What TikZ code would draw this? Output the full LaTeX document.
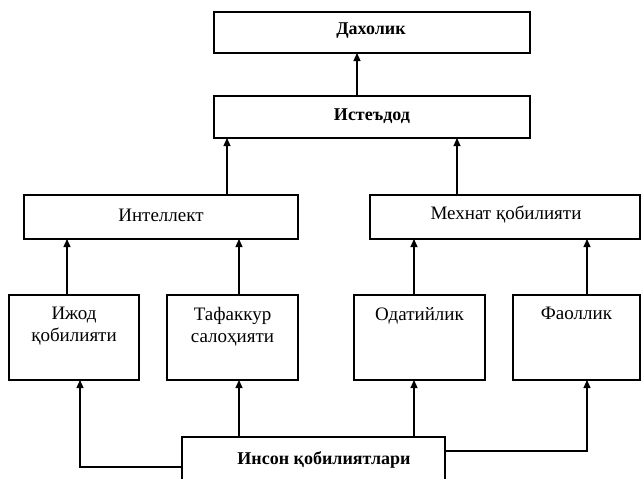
\documentclass[tikz,border=0pt]{standalone}
\usepackage{fontspec}
\setmainfont{Liberation Serif}
\usetikzlibrary{arrows.meta}
\begin{document}
\begin{tikzpicture}[x=1pt,y=1pt,
  box/.style={draw=black,line width=1.5pt,inner sep=0pt,outer sep=0pt,fill=white},
  txt/.style={font=\fontsize{19}{22}\selectfont,align=center,inner sep=0pt},
  btxt/.style={font=\fontsize{18}{22}\selectfont\bfseries,align=center,inner sep=0pt},
  arr/.style={line width=1.1pt,-{Triangle[length=8pt,width=7pt]}}]
\useasboundingbox (0,0) rectangle (643,-479);
\clip (0,0) rectangle (643,-479);
\node[box,minimum width=316pt,minimum height=41pt] (dax) at (372,-32.5) {};
\node[box,minimum width=316pt,minimum height=42pt] (ist) at (372,-117) {};
\node[box,minimum width=274pt,minimum height=44pt] (int) at (161,-217) {};
\node[box,minimum width=270pt,minimum height=44pt] (meh) at (505,-217) {};
\node[box,minimum width=130pt,minimum height=85pt] (ijod) at (74,-337.5) {};
\node[box,minimum width=131pt,minimum height=85pt] (taf) at (232.5,-337.5) {};
\node[box,minimum width=131pt,minimum height=85pt] (oda) at (419.5,-337.5) {};
\node[box,minimum width=127pt,minimum height=85pt] (fao) at (576.5,-337.5) {};
\node[box,minimum width=263pt,minimum height=63pt] (ins) at (313.5,-468.5) {};

\node[btxt] (tdax) at (371,-31) {Дахолик};
\node[btxt] (tist) at (372,-116) {Истеъдод};
\node[txt] (tint) at (161,-215) {Интеллект};
\node[txt] (tmeh) at (506,-215) {Мехнат қобилияти};
\node[txt,anchor=north] (tijod) at (74,-307) {Ижод\\қобилияти};
\node[txt,anchor=north] (ttaf) at (232.5,-307) {Тафаккур\\салоҳияти};
\node[txt,anchor=north] (toda) at (419.5,-307) {Одатийлик};
\node[txt,anchor=north] (tfao) at (576.5,-307) {Фаоллик};
\node[btxt] (tins) at (324,-460) {Инсон қобилиятлари};

\draw[arr] ([xshift=-15pt]ist.north) -- ([xshift=-15pt]dax.south);
\draw[arr] ([xshift=66pt]int.north) -- ([xshift=-145pt]ist.south);
\draw[arr] ([xshift=-48pt]meh.north) -- ([xshift=85pt]ist.south);
\draw[arr] ([xshift=-7pt]ijod.north) -- ([xshift=-94pt]int.south);
\draw[arr] ([xshift=6.5pt]taf.north) -- ([xshift=78pt]int.south);
\draw[arr] ([xshift=-5.5pt]oda.north) -- ([xshift=-91pt]meh.south);
\draw[arr] ([xshift=10.5pt]fao.north) -- ([xshift=82pt]meh.south);
\draw[arr] ([xshift=-74.5pt]ins.north) -- ([xshift=6.5pt]taf.south);
\draw[arr] ([xshift=100.5pt]ins.north) -- ([xshift=-5.5pt]oda.south);
\draw[arr] ([yshift=1.5pt]ins.west) -| ([xshift=6pt]ijod.south);
\draw[arr] ([yshift=17.5pt]ins.east) -| ([xshift=10.5pt]fao.south);
\end{tikzpicture}
\end{document}
